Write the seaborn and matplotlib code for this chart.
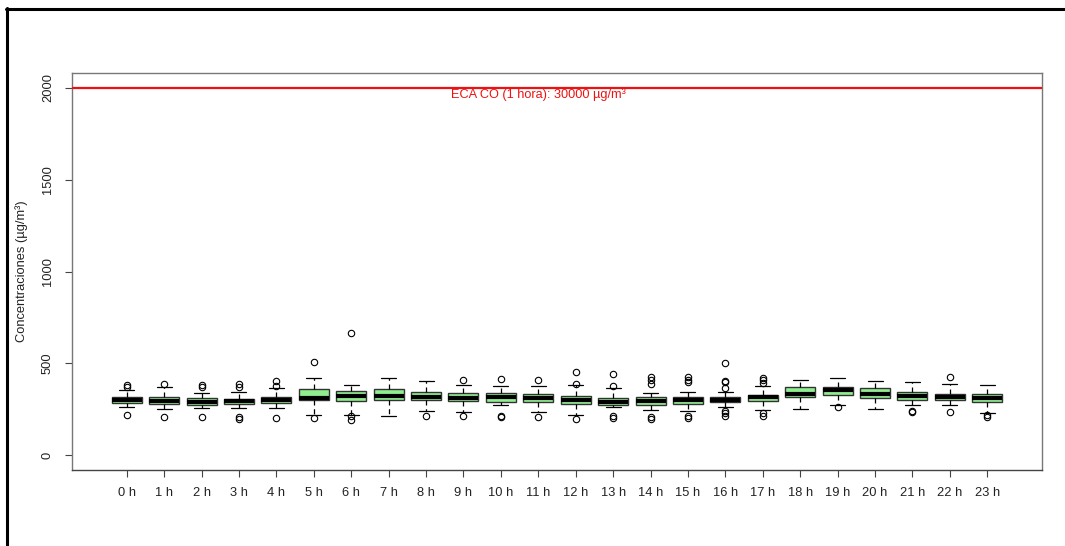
import numpy as np
import pandas as pd
import matplotlib
matplotlib.use("Agg")
import matplotlib.pyplot as plt
from matplotlib.lines import Line2D
import seaborn as sns

# ---- data (µg/m³) ----
hours = [f"{h} h" for h in range(24)]
lower_whisker = [265, 252, 258, 259, 259, 217, 220, 212, 240, 236, 276, 238,
                 221, 261, 247, 241, 263, 247, 252, 272, 252, 276, 276, 229]
q1 = [285, 281, 274, 279, 285, 303, 296, 301, 301, 296, 290, 290,
      278, 276, 276, 281, 290, 296, 318, 330, 312, 303, 299, 290]
median = [301, 294, 292, 294, 303, 314, 325, 323, 318, 312, 319, 312,
          301, 290, 294, 299, 301, 316, 332, 357, 334, 325, 318, 312]
q3 = [318, 318, 310, 307, 318, 361, 348, 361, 343, 337, 337, 334,
      321, 312, 318, 318, 318, 330, 370, 370, 366, 343, 336, 336]
upper_whisker = [354, 370, 339, 345, 365, 423, 383, 423, 404, 383, 379, 376,
                 385, 364, 339, 345, 345, 376, 410, 423, 406, 397, 388, 383]
outliers = [
    [384, 372, 220],
    [388, 207],
    [381, 370, 207],
    [388, 374, 207, 200],
    [403, 376, 201],
    [508, 203],
    [664, 212, 191],
    [],
    [216],
    [412, 215],
    [415, 215, 210],
    [412, 207],
    [452, 390, 200],
    [443, 376, 216, 203],
    [424, 412, 388, 210, 196],
    [424, 412, 399, 213, 203],
    [502, 406, 399, 366, 243, 229, 216],
    [421, 408, 394, 230, 216],
    [],
    [265],
    [],
    [241, 236],
    [424, 234],
    [219, 210],
]
limit_value = 2000
limit_label = "ECA CO (1 hora): 30000 µg/m³"

# Build per-hour samples whose box statistics equal the values read above
rows = []
m = 200
for i, h in enumerate(hours):
    vals = ([lower_whisker[i]] + [q1[i]] * m + [median[i]] * m + [q3[i]] * m
            + [upper_whisker[i]] + outliers[i])
    rows += [(h, v) for v in vals]
df = pd.DataFrame(rows, columns=["hora", "conc"])

sns.set_theme(style="ticks")
plt.rcParams['font.family'] = ['Liberation Sans', 'DejaVu Sans']

fig = plt.figure(figsize=(10.65, 5.46), dpi=100)
ax = fig.add_axes([72/1065, 1 - 470/546, (1042-72)/1065, (470-73)/546])

sns.boxplot(data=df, x="hora", y="conc", order=hours, ax=ax,
            color="#90EE90", saturation=1, width=0.8, whis=1.5,
            linecolor="black", linewidth=1.0,
            medianprops=dict(color="black", linewidth=3.0),
            whiskerprops=dict(linestyle=(0, (4, 3)), color="black", linewidth=0.9),
            capprops=dict(color="black", linewidth=0.9),
            boxprops=dict(edgecolor="#333333", linewidth=1.0),
            flierprops=dict(marker='o', markerfacecolor='none',
                            markeredgecolor='black', markersize=4.6,
                            markeredgewidth=0.8))

ax.axhline(limit_value, color="#ee1111", linewidth=1.6, zorder=3)
ax.text(11, 1962, limit_label, color="#ee1111", fontsize=9.2,
        ha="center", va="center")

ax.set_xlim(-1.462, 24.462)
ax.set_ylim(-80, 2080)
ax.set_yticks([0, 500, 1000, 1500, 2000])
ax.set_yticklabels(["0", "500", "1000", "1500", "2000"], rotation=90, va="center")
ax.set_xlabel("")
ax.set_ylabel("Concentraciones (µg/m³)", fontsize=9.3, color="#222222", labelpad=10)

ax.tick_params(axis="both", direction="out", length=5, width=0.8,
               color="#444444", labelsize=9.3, labelcolor="#222222")
ax.tick_params(axis="y", pad=8)
ax.tick_params(axis="x", pad=7)
for side in ["top", "right", "left"]:
    ax.spines[side].set_color("#777777")
    ax.spines[side].set_linewidth(1.0)
ax.spines["bottom"].set_color("#444444")
ax.spines["bottom"].set_linewidth(1.0)
ax.grid(False)

# outer frame (left and top edges)
fig.add_artist(Line2D([7/1065, 7/1065], [0, 1 - 8/546], color="black",
                      linewidth=2.2, transform=fig.transFigure))
fig.add_artist(Line2D([6/1065, 1], [1 - 9/546, 1 - 9/546], color="black",
                      linewidth=2.2, transform=fig.transFigure))

fig.savefig("out.png", dpi=100)
